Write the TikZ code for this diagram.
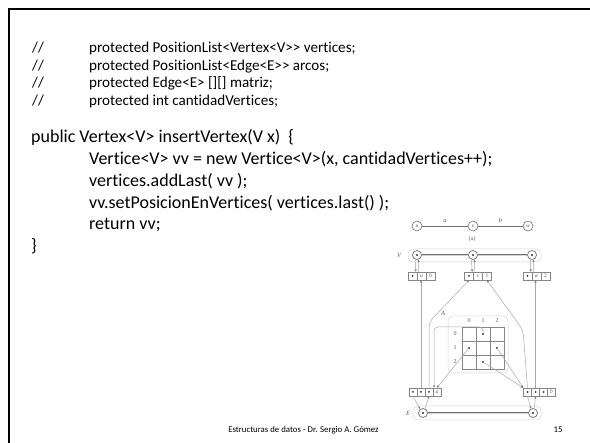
\documentclass[tikz,border=0pt]{standalone}
\usepackage{fontspec}
\setmainfont{Carlito}[Ligatures={TeXOff,NoCommon}]
\newfontfamily\figfont{Liberation Serif}
\usetikzlibrary{arrows.meta}

\definecolor{figline}{HTML}{A8A8A8}
\definecolor{figring}{HTML}{707070}
\definecolor{figdot}{HTML}{303030}
\definecolor{figbox}{HTML}{868686}
\definecolor{figtext}{HTML}{5A5A5A}
\definecolor{figpale}{HTML}{D4D4D4}

\tikzset{
  codeA/.style={anchor=base west, inner sep=0pt, font=\fontsize{15.1}{17}\selectfont},
  codeB/.style={anchor=base west, inner sep=0pt, font=\fontsize{18}{21}\selectfont},
  footer/.style={anchor=base, inner sep=0pt, font=\fontsize{8.8}{10}\selectfont},
  glabel/.style={inner sep=0pt, text=figtext, font=\figfont\itshape\fontsize{6.5}{6.5}\selectfont},
  gnum/.style={inner sep=0pt, text=figtext, font=\figfont\fontsize{6}{6}\selectfont},
  gvert/.style={circle, draw=figring, line width=0.6pt, minimum size=10pt, inner sep=0pt,
    text=figtext, font=\figfont\itshape\fontsize{5.5}{5.5}\selectfont},
  posn/.style={circle, draw=figring, line width=0.7pt, minimum size=9pt, inner sep=0pt,
    path picture={\fill[figdot] (path picture bounding box.center) circle (1.2pt);}},
  cell/.style={draw=figbox, line width=0.5pt, minimum width=9pt, minimum height=8pt, inner sep=0pt,
    text=figtext, font=\figfont\itshape\fontsize{5.5}{5.5}\selectfont},
  dotcell/.style={cell, path picture={\fill[figdot] (path picture bounding box.center) circle (1pt);}},
  ecell/.style={cell, minimum width=8pt},
  edotcell/.style={dotcell, minimum width=8pt},
  mcell/.style={draw=figbox, line width=0.5pt, minimum size=14pt, inner sep=0pt},
  mdot/.style={mcell, path picture={\fill[figdot] (path picture bounding box.center) circle (1.1pt);}},
  ptr/.style={draw=figline, line width=0.5pt, -{Stealth[length=2.6pt,width=2.2pt,color=figring]}},
  dbl/.style={draw=figring, line width=0.5pt, double=figpale, double distance=0.9pt},
  holder/.style={draw=figpale, line width=0.5pt, rounded corners=5pt},
  gedge/.style={draw=figring, line width=0.6pt},
}

\begin{document}
\begin{tikzpicture}[x=1pt,y=-1pt]
\useasboundingbox (0,0) rectangle (590,443);

% slide frame
\draw[line width=2pt] (9,443) -- (9,9) -- (590,9);

% field declarations
\node[codeA] (c1a) at (32,53)    {//};
\node[codeA] (c1b) at (89,53)    {protected PositionList<Vertex<V>> vertices;};
\node[codeA] (c2a) at (32,70.5)  {//};
\node[codeA] (c2b) at (89,70.5)  {protected PositionList<Edge<E>> arcos;};
\node[codeA] (c3a) at (32,88)    {//};
\node[codeA] (c3b) at (89,88)    {protected Edge<E> [][] matriz;};
\node[codeA] (c4a) at (32,105.5) {//};
\node[codeA] (c4b) at (89,105.5) {protected int cantidadVertices;};

% method body
\node[codeB] (m1) at (31,143)   {public Vertex<V> insertVertex(V x)\ \ \{};
\node[codeB] (m2) at (89,164.7) {Vertice<V> vv = new Vertice<V>(x, cantidadVertices++);};
\node[codeB] (m3) at (89,186.4) {vertices.addLast( vv );};
\node[codeB] (m4) at (89,208.1) {vv.setPosicionEnVertices( vertices.last() );};
\node[codeB] (m5) at (89,229.8) {return vv;};
\node[codeB] (m6) at (31,251.5) {\}};

% footer
\node[footer] (ft) at (303.5,433) {Estructuras de datos - Dr. Sergio A. Gómez};
\node[footer] (pg) at (558,433) {15};

% ---- graph (a)
\node[gvert] (gu) at (417,226) {u};
\node[gvert] (gv) at (473,226) {v};
\node[gvert] (gw) at (528,226) {w};
\draw[gedge] (gu) -- node[glabel, above=3.5pt] (la) {a} (gv);
\draw[gedge] (gv) -- node[glabel, above=3.5pt] (lb) {b} (gw);
\node[gnum] (cap) at (472,239) {(a)};

% ---- vertex list V
\draw[holder] (408,249) rectangle (541,262);
\node[glabel] (Vname) at (399,255) {V};
\node[posn] (pu) at (417,255) {};
\node[posn] (pv) at (473,255) {};
\node[posn] (pw) at (532,255) {};
\draw[dbl] (pu) -- (pv);
\draw[dbl] (pv) -- (pw);

% vertex records
\node[dotcell] (u1) at (412.5,276) {};
\node[cell]    (u2) at (421.5,276) {u};
\node[cell]    (u3) at (430.5,276) {\upshape 0};
\node[dotcell] (v1) at (469,276) {};
\node[cell]    (v2) at (478,276) {v};
\node[cell]    (v3) at (487,276) {\upshape 1};
\node[dotcell] (w1) at (527.5,276) {};
\node[cell]    (w2) at (536.5,276) {w};
\node[cell]    (w3) at (545.5,276) {\upshape 2};

\draw[ptr] (pu.250) -- ([xshift=-1.5pt]u1.north east);
\draw[ptr] ([xshift=1.5pt]u2.north west) -- (pu.290);
\draw[ptr] (pv.250) -- ([xshift=-1.5pt]v1.north east);
\draw[ptr] ([xshift=1.5pt]v2.north west) -- (pv.290);
\draw[ptr] (pw.250) -- ([xshift=-1.5pt]w1.north east);
\draw[ptr] ([xshift=1.5pt]w2.north west) -- (pw.290);

% ---- edge list E
\draw[holder] (413,406) rectangle (541,420);
\node[glabel] (Ename) at (408,413) {E};
\node[posn] (pa) at (423,413) {};
\node[posn] (pb) at (533,413) {};
\draw[dbl] (pa) -- (pb);

% edge records
\node[edotcell] (a1) at (413,392) {};
\node[edotcell] (a2) at (421,392) {};
\node[edotcell] (a3) at (429,392) {};
\node[ecell]    (a4) at (437,392) {a};
\node[edotcell] (b1) at (527.5,392) {};
\node[edotcell] (b2) at (535.5,392) {};
\node[edotcell] (b3) at (543.5,392) {};
\node[ecell]    (b4) at (551.5,392) {b};

\draw[ptr] (a1.south) -- (pa.125);
\draw[ptr] (pa.65) -- (a3.south);
\draw[ptr] (b1.south) -- (pb.115);
\draw[ptr] (pb.75) -- (b2.south);

% end-vertex pointers of the edges
\coordinate (bendA) at (429,322);
\coordinate (bendB) at (523,330);
\draw[ptr] (a2.north) -- (a2.north |- u2.south);
\draw[ptr] (b2.north) -- (b2.north |- w2.south);
\draw[ptr, rounded corners=6pt] (a3.north) -- (bendA) -- (v1.south);
\draw[ptr, rounded corners=6pt] (b1.north) -- (bendB) -- (v3.south);

% ---- adjacency matrix A
\draw[holder] (448,316) rectangle (508,373);
\node[glabel] (Aname) at (443,313) {A};
\node[gnum] (h0) at (469,321) {0};
\node[gnum] (h1) at (483,321) {1};
\node[gnum] (h2) at (497,321) {2};
\node[gnum] (r0) at (455,334) {0};
\node[gnum] (r1) at (455,348) {1};
\node[gnum] (r2) at (455,362) {2};
\node[mcell] (m00) at (469,334) {};
\node[mdot]  (m01) at (483,334) {};
\node[mcell] (m02) at (497,334) {};
\node[mdot]  (m10) at (469,348) {};
\node[mcell] (m11) at (483,348) {};
\node[mdot]  (m12) at (497,348) {};
\node[mcell] (m20) at (469,362) {};
\node[mdot]  (m21) at (483,362) {};
\node[mcell] (m22) at (497,362) {};

\coordinate (turnA) at (434,327);
\draw[ptr, rounded corners=4pt] (m01.center) |- (turnA) -- (turnA |- a4.north);
\draw[ptr] (m10.center) -- (a4.north);
\draw[ptr] (m12.center) -- (b1.north west);
\draw[ptr] (m21.center) -- (b1.north west);

\end{tikzpicture}
\end{document}
